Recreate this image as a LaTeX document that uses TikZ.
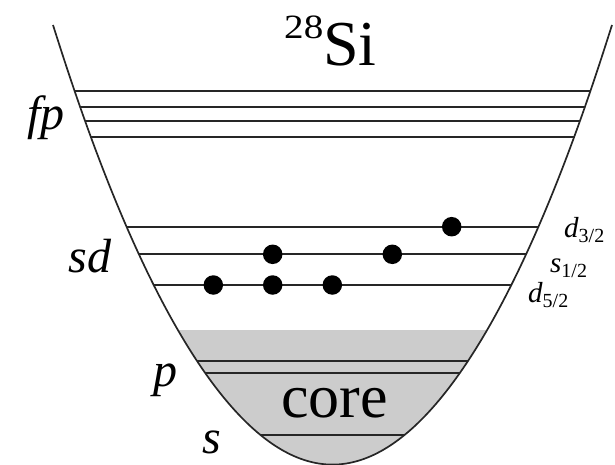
\documentclass[tikz,border=0pt]{standalone}
\usepackage{fontspec}
\setmainfont{Liberation Serif}
\definecolor{coregray}{RGB}{204,204,204}
\begin{document}
\begin{tikzpicture}[x=1pt,y=-1pt,
  lvl/.style={line width=1.7pt,black!85},
  bowl/.style={line width=1.7pt,black!85},
  electron/.style={circle,fill=black,inner sep=0pt,minimum size=19.5pt},
  shell/.style={anchor=base,inner sep=0pt,font=\fontsize{48}{48}\selectfont\itshape},
  orb/.style={anchor=base west,inner sep=0pt,font=\fontsize{29}{29}\selectfont\itshape}]
\useasboundingbox (0,0) rectangle (615,465);
% well interior: grey core and levels
\begin{scope}
  \clip (53,25) parabola bend (332.5,464.6) (612,25) -- cycle;
  \fill[coregray] (0,330) rectangle (615,470);
  \foreach \yy in {90.7,106.7,120.7,136.7,226.7,254.3,285,360.7,373.3,435}
    \draw[lvl] (0,\yy) -- (615,\yy);
\end{scope}
% well outline
\draw[bowl] (53,25) parabola bend (332.5,464.6) (612,25);
% electrons
\node[electron] (e1) at (451.7,226.7) {};
\node[electron] (e2) at (272.7,254.3) {};
\node[electron] (e3) at (392.3,254.3) {};
\node[electron] (e4) at (213.3,285) {};
\node[electron] (e5) at (272.7,285) {};
\node[electron] (e6) at (332.3,285) {};
% title
\node[anchor=base west,inner sep=0pt] (title) at (284,66)
  {\raisebox{27pt}{\scalebox{1.15}[1]{\fontsize{34}{34}\selectfont 28}}\fontsize{64}{64}\selectfont Si};
% shell labels
\node[shell] (fp) at (46,130) {fp};
\node[shell] (sd) at (90,272) {sd};
\node[shell] (p) at (165,386) {p};
\node[shell] (s) at (211.5,453) {s};
\node[anchor=base,inner sep=0pt,font=\fontsize{62}{62}\selectfont] (core) at (334.5,417) {core};
% orbital labels
\node[orb] (d32) at (564,237) {d\raisebox{-5pt}{\fontsize{20}{20}\selectfont\upshape 3/2}};
\node[orb] (s12) at (550,272) {s\raisebox{-5pt}{\fontsize{20}{20}\selectfont\upshape 1/2}};
\node[orb] (d52) at (528,302) {d\raisebox{-5pt}{\fontsize{20}{20}\selectfont\upshape 5/2}};
\end{tikzpicture}
\end{document}
